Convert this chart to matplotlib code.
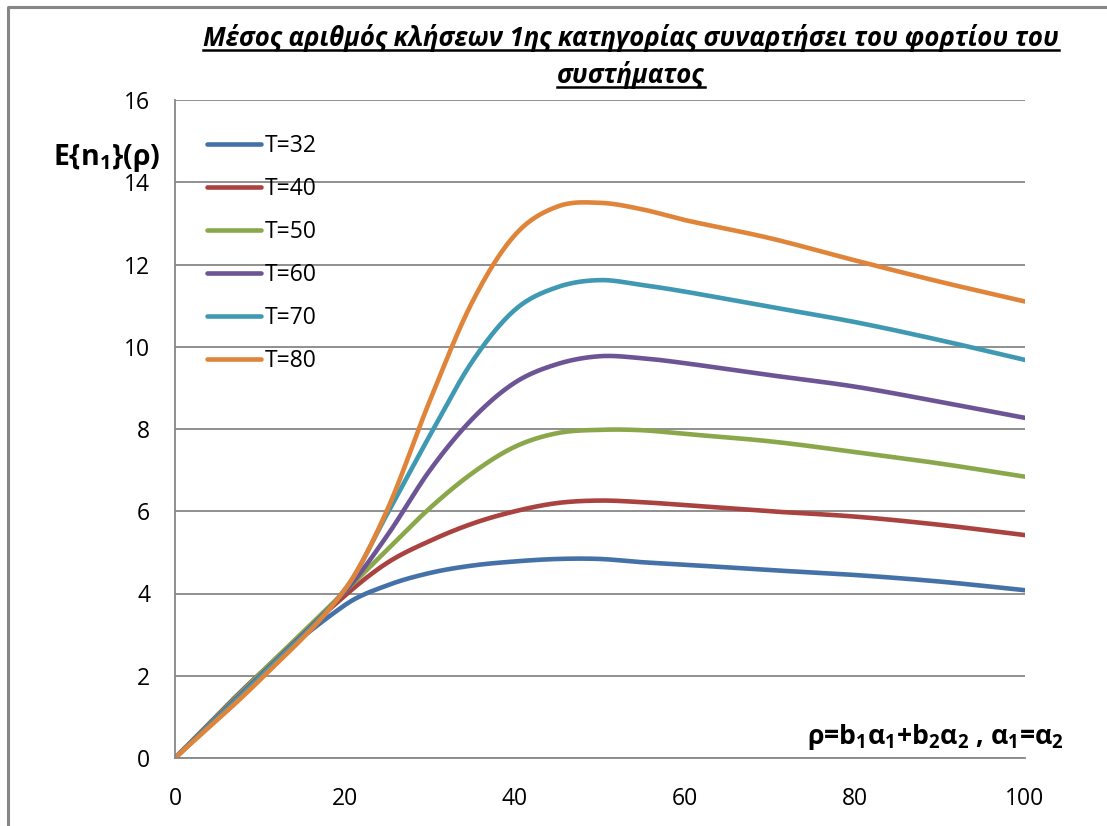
import numpy as np
import matplotlib.pyplot as plt
from matplotlib.lines import Line2D

plt.rcParams['font.family'] = ['Open Sans', 'DejaVu Sans']
plt.rcParams['mathtext.fontset'] = 'custom'
plt.rcParams['mathtext.rm'] = 'Open Sans'
plt.rcParams['mathtext.bf'] = 'Open Sans:bold'
plt.rcParams['mathtext.it'] = 'Open Sans:italic'

rho = [0, 10, 20, 25, 30, 35, 40, 45, 50, 55, 60, 70, 80, 90, 100]
t32 = [0, 2.05, 3.72, 4.2, 4.5, 4.68, 4.78, 4.84, 4.84, 4.76, 4.7, 4.57, 4.45, 4.29, 4.08]
t40 = [0, 2.05, 3.95, 4.75, 5.28, 5.7, 6.0, 6.2, 6.26, 6.22, 6.15, 6.0, 5.87, 5.67, 5.42]
t50 = [0, 2.05, 4.05, 5.07, 6.08, 6.93, 7.57, 7.9, 7.98, 7.97, 7.88, 7.7, 7.44, 7.16, 6.84]
t60 = [0, 2.0, 4.05, 5.42, 7.0, 8.25, 9.13, 9.58, 9.77, 9.72, 9.6, 9.31, 9.03, 8.66, 8.27]
t70 = [0, 1.97, 4.1, 5.95, 7.85, 9.65, 10.9, 11.45, 11.62, 11.5, 11.34, 10.97, 10.6, 10.16, 9.68]
t80 = [0, 1.9, 4.1, 6.05, 8.7, 11.1, 12.72, 13.41, 13.5, 13.34, 13.08, 12.64, 12.1, 11.58, 11.1]
labels = ['T=32', 'T=40', 'T=50', 'T=60', 'T=70', 'T=80']
colors = ['#4472A8', '#AA423F', '#8AA84B', '#6D5595', '#3F99B2', '#E0843A']


def smooth(x, y, n=30):
    # catmull-rom style bezier through the points, parametrised by x spacing
    p = np.column_stack([np.asarray(x, float), np.asarray(y, float)])
    m = len(p)
    c_out, c_in = [], []
    for i in range(m):
        a = p[max(i - 1, 0)]
        b = p[min(i + 1, m - 1)]
        tang = (b - a) / (b[0] - a[0])
        hl = p[i][0] - a[0] if i > 0 else 0
        hr = b[0] - p[i][0] if i < m - 1 else 0
        c_out.append(p[i] + tang * hr / 3)
        c_in.append(p[i] - tang * hl / 3)
    pts = []
    t = np.linspace(0, 1, n)[:, None]
    for i in range(m - 1):
        p1, c1, c2, p2 = p[i], c_out[i], c_in[i + 1], p[i + 1]
        seg = ((1 - t) ** 3 * p1 + 3 * (1 - t) ** 2 * t * c1
               + 3 * (1 - t) * t ** 2 * c2 + t ** 3 * p2)
        pts.append(seg if i == 0 else seg[1:])
    pts = np.vstack(pts)
    return pts[:, 0], pts[:, 1]


fig = plt.figure(figsize=(11.07, 8.26), dpi=100)
ax = fig.add_axes([175 / 1107, 68 / 826, 850 / 1107, 658 / 826])

for ys, lab, c in zip([t32, t40, t50, t60, t70, t80], labels, colors):
    lx, ly = smooth(rho, ys)
    ax.plot(lx, ly, color=c, lw=3.3, label=lab, solid_capstyle='round')

ax.set_xlim(0, 100)
ax.set_ylim(0, 16)
ax.set_xticks(range(0, 101, 20))
ax.set_yticks(range(0, 17, 2))
ax.grid(axis='y', color='#878787', lw=1.3)
ax.set_axisbelow(True)
for s in ['top', 'right']:
    ax.spines[s].set_visible(False)
for s in ['left', 'bottom']:
    ax.spines[s].set_color('#878787')
    ax.spines[s].set_linewidth(1.3)
ax.tick_params(axis='y', length=0, pad=18, labelsize=16.5)
ax.tick_params(axis='x', length=0, pad=21, labelsize=16.5)

ax.legend(loc='upper left', bbox_to_anchor=(0.038, 0.949), frameon=False,
          fontsize=16.5, handlelength=2.36, handletextpad=0.13,
          labelspacing=0.83, borderpad=0, borderaxespad=0)

ax.text(-0.080, 0.912, 'E{n${}_\\mathbf{1}$}(ρ)', transform=ax.transAxes,
        fontsize=20.5, fontweight='bold', ha='center', va='center')
ax.text(0.894, 0.032,
        'ρ=b${}_\\mathbf{1}$α${}_\\mathbf{1}$+b${}_\\mathbf{2}$α${}_\\mathbf{2}$ , '
        'α${}_\\mathbf{1}$=α${}_\\mathbf{2}$',
        transform=ax.transAxes, fontsize=19.2, fontweight='bold',
        ha='center', va='center')

# title, two underlined lines
title_lines = ['Μέσος αριθμός κλήσεων 1ης κατηγορίας συναρτήσει του φορτίου του',
               'συστήματος']
title_y = [788 / 826, 751 / 826]
fig.canvas.draw()
renderer = fig.canvas.get_renderer()
for line, ty in zip(title_lines, title_y):
    t = fig.text(631 / 1107, ty, line, fontsize=18.5, fontweight='bold',
                 fontstyle='italic', ha='center', va='center')
    bb = t.get_window_extent(renderer).transformed(fig.transFigure.inverted())
    fig.add_artist(Line2D([bb.x0, bb.x1], [bb.y0 + 0.003, bb.y0 + 0.003],
                          transform=fig.transFigure, color='black', lw=1.8))

# chart area border
fig.add_artist(Line2D([8 / 1107, 8 / 1107, 1.0], [0.0, 1 - 7 / 826, 1 - 7 / 826],
                      transform=fig.transFigure, color='#878787', lw=2.2))

fig.savefig('out.png', dpi=100)
